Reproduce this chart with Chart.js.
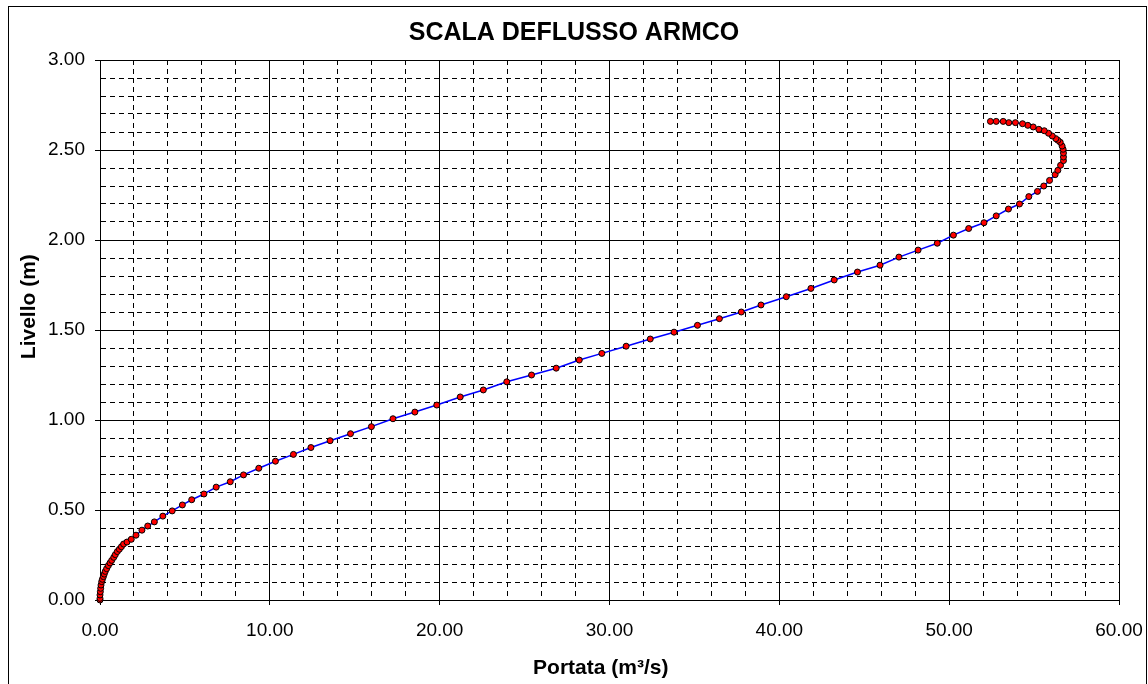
<!DOCTYPE html>
<html lang="it">
<head>
    <title>Scala deflusso Armco</title>
    <meta charset="UTF-8">
    <script src="https://cdn.jsdelivr.net/npm/chart.js"></script>
    <style>
        body {
            margin: 0;
            background: #fff;
            font-family: "Liberation Sans", Arial, sans-serif;
        }
        #wrap {
            position: relative;
            width: 1148px;
            height: 684px;
            overflow: hidden;
        }
        #frame {
            position: absolute;
            left: 8px;
            top: 6px;
            width: 1137px;
            height: 700px;
            border: 1px solid #000;
        }
        #chart {
            position: absolute;
            left: 0;
            top: 0;
        }
    </style>
</head>
<body>
    <div id="wrap">
        <div id="frame"></div>
        <canvas id="chart" width="1148" height="684"></canvas>
    </div>
    <script>
        // Portata (m3/s)
        var portata = [0, 0, 0, 0.02, 0.04, 0.06, 0.1, 0.14, 0.2, 0.25,
            0.31, 0.39, 0.49, 0.59, 0.69, 0.81, 0.9, 1.02, 1.14, 1.26,
            1.39, 1.59, 1.84, 2.12, 2.47, 2.81, 3.2, 3.7, 4.25, 4.85,
            5.4, 6.12, 6.84, 7.67, 8.45, 9.35, 10.33, 11.39, 12.42, 13.55,
            14.75, 15.98, 17.25, 18.54, 19.83, 21.21, 22.57, 23.95, 25.41, 26.86,
            28.22, 29.55, 30.98, 32.4, 33.8, 35.18, 36.47, 37.76, 38.92, 40.41,
            41.86, 43.23, 44.6, 45.93, 47.04, 48.17, 49.3, 50.25, 51.15, 52.05,
            52.77, 53.49, 54.14, 54.69, 55.2, 55.57, 55.91, 56.24, 56.4, 56.56,
            56.73, 56.73, 56.73, 56.71, 56.65, 56.54, 56.4, 56.28, 56.07, 55.85,
            55.6, 55.28, 54.95, 54.63, 54.32, 53.9, 53.51, 53.18, 52.77, 52.43];

        // Livello (m)
        var livello = [0, 0.009, 0.028, 0.046, 0.065, 0.083, 0.102, 0.115, 0.13, 0.144,
            0.159, 0.174, 0.191, 0.206, 0.22, 0.237, 0.252, 0.269, 0.282, 0.296,
            0.311, 0.322, 0.337, 0.36, 0.388, 0.411, 0.434, 0.466, 0.495, 0.528,
            0.557, 0.589, 0.627, 0.657, 0.695, 0.732, 0.771, 0.809, 0.847, 0.885,
            0.924, 0.963, 1.007, 1.044, 1.083, 1.128, 1.167, 1.212, 1.25, 1.288,
            1.333, 1.37, 1.41, 1.45, 1.488, 1.526, 1.563, 1.6, 1.639, 1.685,
            1.731, 1.778, 1.822, 1.86, 1.905, 1.944, 1.982, 2.027, 2.064, 2.096,
            2.134, 2.172, 2.2, 2.241, 2.27, 2.3, 2.331, 2.363, 2.387, 2.415,
            2.441, 2.461, 2.483, 2.504, 2.522, 2.543, 2.554, 2.563, 2.578, 2.593,
            2.607, 2.615, 2.628, 2.637, 2.646, 2.652, 2.652, 2.659, 2.659, 2.659];

        // assi
        var xMin = 0, xMax = 60, xMajor = 10, xMinor = 2;
        var yMin = 0, yMax = 3, yMajor = 0.5, yMinor = 0.1;

        function isMajor(v, step) {
            var r = v / step;
            return Math.abs(r - Math.round(r)) < 1e-6;
        }

        var punti = portata.map(function (q, i) {
            return { x: q, y: livello[i] };
        });

        var ctx = document.getElementById('chart').getContext('2d');
        Chart.defaults.font.family = '"Liberation Sans", Arial, sans-serif';
        Chart.defaults.color = '#000';

        var chart = new Chart(ctx, {
            type: 'scatter',
            data: {
                datasets: [{
                    label: 'Scala deflusso',
                    data: punti,
                    showLine: true,
                    borderColor: '#0000ff',
                    borderWidth: 1.5,
                    tension: 0,
                    pointRadius: 3,
                    pointBackgroundColor: '#ff0000',
                    pointBorderColor: '#000',
                    pointBorderWidth: 1,
                    clip: false
                }]
            },
            options: {
                responsive: false,
                animation: false,
                layout: { padding: 0 },
                plugins: {
                    legend: { display: false },
                    tooltip: { enabled: false },
                    title: {
                        display: true,
                        text: 'SCALA DEFLUSSO ARMCO',
                        font: { size: 25, weight: 'bold' },
                        color: '#000',
                        padding: { top: 18, bottom: 12 }
                    }
                },
                scales: {
                    x: {
                        type: 'linear',
                        position: 'bottom',
                        min: xMin,
                        max: xMax,
                        afterFit: function (s) {
                            s.height = 84;
                            s.paddingLeft = 0;
                            s.paddingRight = 0;
                        },
                        ticks: {
                            stepSize: xMinor,
                            autoSkip: false,
                            maxRotation: 0,
                            padding: 14,
                            font: { size: 19 },
                            callback: function (v) {
                                return isMajor(v, xMajor) ? v.toFixed(2) : '';
                            }
                        },
                        grid: {
                            color: '#000',
                            lineWidth: 1,
                            tickLength: 5,
                            tickColor: function (c) {
                                return c.tick && isMajor(c.tick.value, xMajor) ? '#000' : 'rgba(0,0,0,0)';
                            }
                        },
                        border: {
                            display: true,
                            color: '#000',
                            dash: function (c) {
                                if (!c.tick) return [];
                                return isMajor(c.tick.value, xMajor) ? [] : [5, 4];
                            }
                        },
                        title: {
                            display: true,
                            // spazi finali: il titolo in Excel sta un po' a sinistra
                            text: 'Portata (m³/s)   ',
                            font: { size: 21, weight: 'bold' },
                            padding: { top: 0, bottom: 3 }
                        }
                    },
                    y: {
                        type: 'linear',
                        position: 'left',
                        min: yMin,
                        max: yMax,
                        afterFit: function (s) { s.width = 100; },
                        ticks: {
                            stepSize: yMinor,
                            autoSkip: false,
                            padding: 10,
                            font: { size: 19 },
                            callback: function (v) {
                                return isMajor(v, yMajor) ? v.toFixed(2) : '';
                            }
                        },
                        grid: {
                            color: '#000',
                            lineWidth: 1,
                            tickLength: 5,
                            tickColor: function (c) {
                                return c.tick && isMajor(c.tick.value, yMajor) ? '#000' : 'rgba(0,0,0,0)';
                            }
                        },
                        border: {
                            display: true,
                            color: '#000',
                            dash: function (c) {
                                if (!c.tick) return [];
                                return isMajor(c.tick.value, yMajor) ? [] : [5, 4];
                            }
                        },
                        title: {
                            display: true,
                            // spazi iniziali: titolo spostato verso l'alto come nell'originale
                            text: '        Livello (m)',
                            font: { size: 21, weight: 'bold' },
                            padding: { top: 17, bottom: 0 }
                        }
                    },
                    margine: {
                        type: 'linear',
                        position: 'right',
                        min: yMin,
                        max: yMax,
                        afterFit: function (s) { s.width = 29; },
                        ticks: { display: false },
                        grid: { display: false, drawOnChartArea: false },
                        border: { display: false }
                    }
                }
            }
        });
    </script>
</body>
</html>
